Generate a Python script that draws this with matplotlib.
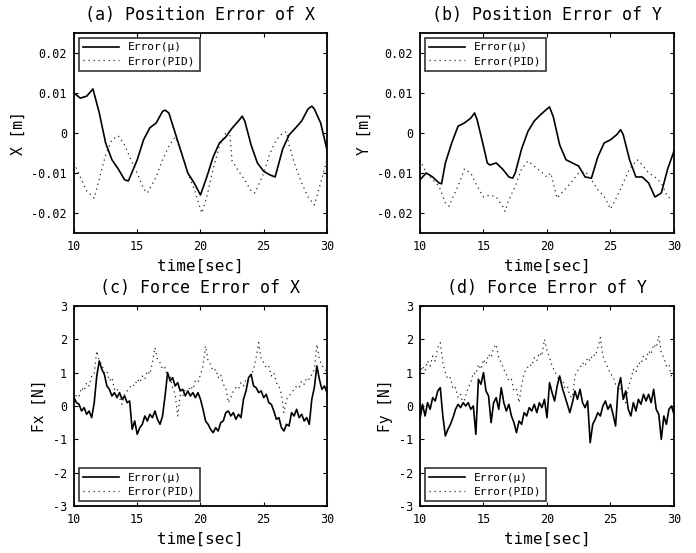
#!/usr/bin/env python3
# -*- coding: utf-8 -*-

import numpy as np
import matplotlib
matplotlib.use("Agg")
import matplotlib.pyplot as plt
from matplotlib.ticker import FuncFormatter

# --- position error of X (time, value) ---
t_x_mu = [10, 10.5, 11, 11.5, 12, 12.5, 13, 13.5, 14, 14.3, 15, 15.5, 16, 16.5,
          17, 17.2, 17.5, 18, 18.5, 19, 19.5, 20, 20.5, 21, 21.5, 22, 22.5, 23,
          23.3, 23.5, 24, 24.5, 25, 25.5, 25.9, 26.5, 27, 27.5, 28, 28.5, 28.8,
          29, 29.5, 30]
x_mu = [0.010, 0.0087, 0.0092, 0.011, 0.005, -0.0025, -0.0067, -0.009, -0.0117,
        -0.012, -0.0067, -0.0017, 0.0013, 0.0025, 0.0054, 0.0057, 0.005, 0.0,
        -0.005, -0.010, -0.0125, -0.0155, -0.011, -0.006, -0.0025, -0.001,
        0.0012, 0.003, 0.0042, 0.003, -0.003, -0.0075, -0.0096, -0.0105,
        -0.011, -0.004, -0.0005, 0.0012, 0.003, 0.006, 0.0067, 0.006, 0.0025,
        -0.0042]

t_x_pid = [10, 10.5, 11, 11.6, 12, 12.5, 13, 13.5, 14, 14.5, 15, 15.5, 15.8,
           16.5, 17, 17.5, 18, 18.5, 19, 19.5, 20.1, 20.5, 21, 21.5, 22, 22.3,
           22.5, 23, 23.5, 24, 24.3, 25, 25.5, 26, 26.5, 26.8, 27, 27.5, 28,
           28.5, 29, 29.5, 30]
x_pid = [-0.0075, -0.011, -0.0145, -0.0163, -0.0115, -0.0055, -0.0017, -0.0007,
         -0.003, -0.0067, -0.010, -0.014, -0.015, -0.011, -0.0067, -0.0033,
         -0.001, -0.005, -0.010, -0.014, -0.020, -0.016, -0.009, -0.0033, 0.0,
         0.0005, -0.007, -0.0095, -0.0117, -0.0145, -0.015, -0.010, -0.005,
         -0.0017, 0.0, 0.0003, -0.003, -0.0083, -0.0125, -0.016, -0.018,
         -0.0125, -0.0067]

# --- position error of Y ---
t_y_mu = [10, 10.5, 11, 11.5, 11.7, 12, 12.5, 13, 13.5, 14, 14.3, 14.5, 15,
          15.3, 15.5, 16, 16.5, 17, 17.3, 17.5, 18, 18.5, 19, 19.5, 20, 20.2,
          20.5, 21, 21.5, 22, 22.5, 23, 23.5, 24, 24.5, 25, 25.5, 25.8, 26,
          26.5, 27, 27.5, 28, 28.5, 29, 29.5, 30]
y_mu = [-0.0117, -0.010, -0.011, -0.0125, -0.0127, -0.0075, -0.0025, 0.0017,
        0.0025, 0.0037, 0.005, 0.0033, -0.0033, -0.0075, -0.008, -0.0075,
        -0.009, -0.011, -0.0113, -0.010, -0.004, 0.0004, 0.003, 0.0046, 0.006,
        0.0065, 0.004, -0.003, -0.0067, -0.0075, -0.0083, -0.011, -0.0113,
        -0.006, -0.0025, -0.0017, -0.0004, 0.0008, -0.0004, -0.0067, -0.011,
        -0.011, -0.0125, -0.016, -0.015, -0.009, -0.0045]

t_y_pid = [10, 10.5, 11, 11.5, 12, 12.3, 12.5, 13, 13.5, 14, 14.5, 15, 15.5,
           16, 16.5, 16.7, 17, 17.5, 18, 18.5, 19, 19.5, 20, 20.3, 20.8, 21,
           21.5, 22, 22.5, 23, 23.5, 24, 24.5, 25, 25.5, 26, 26.5, 27.1, 27.5,
           28, 28.5, 29, 29.5, 30]
y_pid = [-0.0067, -0.010, -0.0117, -0.0133, -0.0175, -0.0183, -0.0167, -0.0133,
         -0.009, -0.010, -0.0133, -0.016, -0.0155, -0.016, -0.0183, -0.0196,
         -0.0167, -0.0133, -0.009, -0.007, -0.0083, -0.0096, -0.011, -0.010,
         -0.0163, -0.0155, -0.0138, -0.012, -0.010, -0.0096, -0.0117, -0.0142,
         -0.0158, -0.019, -0.016, -0.0125, -0.009, -0.0067, -0.008, -0.010,
         -0.011, -0.0125, -0.016, -0.0167]

# --- force errors, sampled every 0.2 s from 10 to 30 ---
fx_mu = [0.25, 0.10, 0.05, -0.15, -0.05, -0.25, -0.15, -0.35, 0.10, 0.90,
         1.35, 1.10, 0.95, 0.60, 0.50, 0.30, 0.40, 0.25, 0.40, 0.20,
         0.30, 0.10, 0.15, -0.70, -0.45, -0.85, -0.65, -0.55, -0.30, -0.45,
         -0.25, -0.35, -0.15, -0.40, -0.55, -0.30, 0.30, 1.00, 0.75, 0.85,
         0.60, 0.70, 0.45, 0.50, 0.30, 0.45, 0.30, 0.40, 0.25, 0.40,
         0.20, -0.10, -0.45, -0.55, -0.70, -0.80, -0.65, -0.75, -0.50, -0.45,
         -0.20, -0.15, -0.30, -0.20, -0.40, -0.25, -0.35, 0.20, 0.45, 0.85,
         0.95, 0.60, 0.55, 0.40, 0.45, 0.25, 0.35, 0.10, 0.05, -0.15,
         -0.40, -0.35, -0.65, -0.75, -0.55, -0.60, -0.20, -0.30, -0.10, -0.35,
         -0.25, -0.45, -0.35, -0.55, 0.20, 0.55, 1.20, 0.80, 0.50, 0.60,
         0.40]
fx_pid = [0.15, 0.35, 0.30, 0.55, 0.45, 0.70, 0.60, 0.90, 0.95, 1.65,
          1.35, 1.25, 1.00, 1.05, 0.75, 0.85, 0.50, 0.55, 0.25, 0.05,
          0.35, 0.45, 0.55, 0.65, 0.60, 0.80, 0.70, 0.90, 0.80, 1.05,
          0.95, 1.30, 1.75, 1.40, 1.30, 1.10, 1.15, 0.85, 0.90, 0.55,
          0.35, -0.30, 0.35, 0.30, 0.50, 0.40, 0.60, 0.50, 0.75, 0.70,
          0.95, 1.20, 1.80, 1.35, 1.25, 1.05, 1.10, 0.85, 0.95, 0.65,
          0.55, 0.10, 0.25, 0.45, 0.55, 0.50, 0.70, 0.60, 0.80, 0.75,
          0.95, 1.10, 1.45, 1.90, 1.40, 1.30, 1.15, 1.20, 0.90, 1.00,
          0.70, 0.60, 0.35, -0.20, 0.20, 0.30, 0.40, 0.50, 0.60, 0.55,
          0.75, 0.65, 0.85, 0.80, 0.95, 1.10, 1.85, 1.40, 1.20, 1.15,
          1.00]
fy_mu = [-0.40, 0.05, -0.30, 0.10, -0.10, 0.25, 0.15, 0.45, 0.55, -0.30,
         -0.90, -0.70, -0.55, -0.35, -0.10, 0.05, -0.05, 0.10, 0.00, 0.10,
         -0.10, 0.00, -0.85, 0.80, 0.65, 1.00, 0.45, 0.30, -0.50, 0.10,
         0.25, -0.10, 0.55, 0.10, -0.15, 0.05, -0.30, -0.50, -0.80, -0.45,
         -0.55, -0.20, -0.30, -0.05, -0.15, 0.05, -0.20, 0.10, -0.05, 0.20,
         -0.35, 0.70, 0.40, 0.15, 0.60, 0.90, 0.55, 0.30, 0.05, -0.20,
         0.10, 0.45, 0.20, 0.50, 0.10, -0.05, 0.15, -1.10, -0.55, -0.40,
         -0.20, -0.30, 0.00, 0.15, -0.10, 0.05, -0.25, -0.60, 0.55, 0.85,
         0.20, 0.45, -0.10, -0.30, 0.10, -0.15, 0.20, 0.05, 0.35, 0.15,
         0.35, 0.10, 0.50, -0.10, -0.25, -1.00, -0.30, -0.55, -0.10, 0.00,
         -0.25]
fy_pid = [0.95, 1.20, 1.05, 1.35, 1.20, 1.50, 1.35, 1.75, 1.90, 1.30,
          1.00, 0.80, 0.85, 0.50, 0.55, 0.25, 0.35, 0.05, 0.30, 0.55,
          0.70, 1.00, 0.95, 1.25, 1.10, 1.40, 1.25, 1.55, 1.45, 1.75,
          1.85, 1.45, 1.30, 1.10, 0.95, 0.75, 0.80, 0.45, 0.50, 0.10,
          0.60, 1.00, 1.10, 1.25, 1.20, 1.45, 1.35, 1.60, 1.50, 2.00,
          1.65, 1.45, 1.20, 1.05, 0.90, 0.75, 0.80, 0.55, 0.60, 0.30,
          0.25, 0.90, 1.05, 1.15, 1.30, 1.20, 1.45, 1.35, 1.55, 1.50,
          1.75, 2.05, 1.50, 1.30, 1.15, 0.95, 0.90, 0.65, 0.70, 0.45,
          0.35, 0.10, 0.55, 0.80, 1.10, 1.00, 1.30, 1.25, 1.50, 1.40,
          1.65, 1.55, 1.85, 1.75, 2.10, 1.60, 1.45, 1.20, 1.25, 0.90,
          0.75]

plt.rcParams['font.family'] = ['DejaVu Sans Mono']
plt.rcParams['axes.unicode_minus'] = False


def setup_axes(ax, title, ylabel, ylim, yticks):
    """
    Общая настройка осей
    """
    ax.set_xlim(10, 30)
    ax.set_ylim(*ylim)
    ax.set_xticks([10, 15, 20, 25, 30])
    ax.set_yticks(yticks)
    ax.yaxis.set_major_formatter(FuncFormatter(lambda v, _: '%g' % v))
    ax.tick_params(direction='in', top=True, right=True, length=3,
                   width=0.8, labelsize=8.5, pad=5)
    for sp in ax.spines.values():
        sp.set_linewidth(1.3)
    ax.set_title(title, fontsize=12, pad=9)
    ax.set_xlabel('time[sec]', fontsize=11.5, labelpad=4)
    ax.set_ylabel(ylabel, fontsize=10.5, labelpad=4)


def draw(ax, t1, v1, t2, v2, loc):
    ax.plot(t1, v1, color='black', lw=1.2, label='Error(μ)')
    ax.plot(t2, v2, color='0.15', lw=0.9, linestyle=(0, (1, 3)),
            label='Error(PID)')
    leg = ax.legend(loc=loc, fontsize=8, frameon=True, fancybox=False,
                    handlelength=3.2, borderaxespad=0.45, borderpad=0.4,
                    labelspacing=0.35)
    leg.get_frame().set_edgecolor('black')
    leg.get_frame().set_linewidth(1.2)


fig = plt.figure(figsize=(6.96, 5.53), dpi=100)
ax_a = fig.add_axes([0.1063, 0.5787, 0.3635, 0.3617])
ax_b = fig.add_axes([0.6034, 0.5787, 0.3650, 0.3617])
ax_c = fig.add_axes([0.1063, 0.0850, 0.3635, 0.3617])
ax_d = fig.add_axes([0.6034, 0.0850, 0.3650, 0.3617])

pos_ticks = [-0.02, -0.01, 0, 0.01, 0.02]
force_ticks = [-3, -2, -1, 0, 1, 2, 3]
t_force = np.linspace(10, 30, len(fx_mu))

draw(ax_a, t_x_mu, x_mu, t_x_pid, x_pid, 'upper left')
setup_axes(ax_a, '(a) Position Error of X', 'X [m]', (-0.025, 0.025), pos_ticks)

draw(ax_b, t_y_mu, y_mu, t_y_pid, y_pid, 'upper left')
setup_axes(ax_b, '(b) Position Error of Y', 'Y [m]', (-0.025, 0.025), pos_ticks)

draw(ax_c, t_force, fx_mu, t_force, fx_pid, 'lower left')
setup_axes(ax_c, '(c) Force Error of X', 'Fx [N]', (-3, 3), force_ticks)

draw(ax_d, t_force, fy_mu, t_force, fy_pid, 'lower left')
setup_axes(ax_d, '(d) Force Error of Y', 'Fy [N]', (-3, 3), force_ticks)

fig.savefig('out.png', dpi=100)
